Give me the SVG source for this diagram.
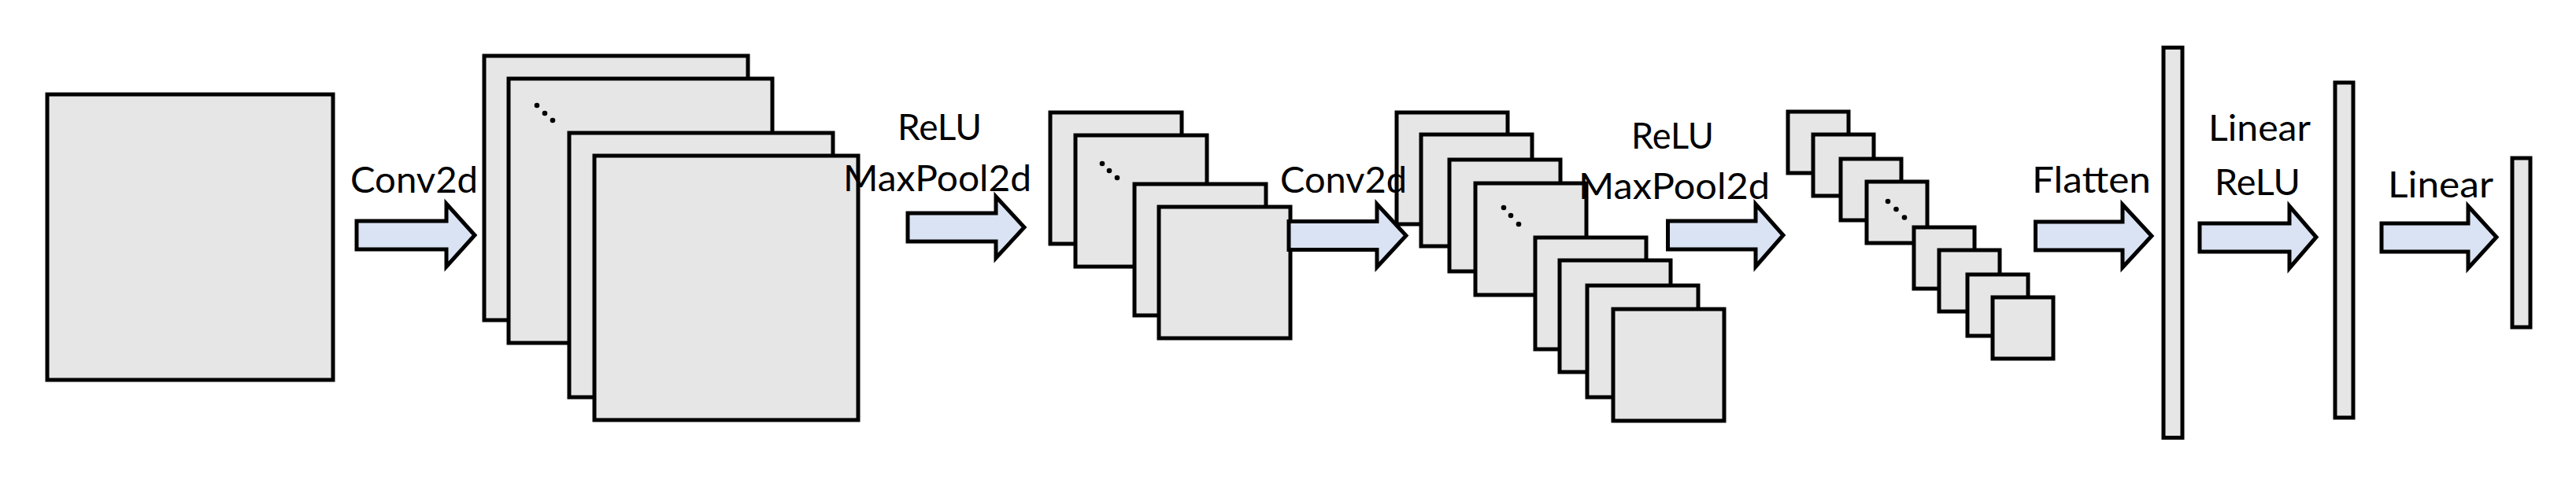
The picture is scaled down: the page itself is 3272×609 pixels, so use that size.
<svg xmlns="http://www.w3.org/2000/svg" width="3272" height="609" viewBox="0 0 3272 609">
<style>
.b{fill:#e6e6e6;stroke:#000;stroke-width:5}
.a{fill:#dae3f3;stroke:#000;stroke-width:5;stroke-linejoin:miter}
.t{font-family:Lato,"Open Sans","Liberation Sans",sans-serif;font-size:46px;fill:#000}
.d{fill:#000}
</style>
<rect width="3272" height="609" fill="#fff"/>
<g id="input"><rect class="b" x="60" y="120" width="363" height="363"/></g>
<g id="conv1-maps">
<rect class="b" x="615" y="71" width="335" height="336"/>
<rect class="b" x="646" y="100" width="335" height="336"/>
<circle class="d" cx="682" cy="134" r="3.3"/><circle class="d" cx="692" cy="144" r="3.3"/><circle class="d" cx="702" cy="153" r="3.3"/>
<rect class="b" x="723" y="169" width="335" height="336"/>
<rect class="b" x="755" y="198" width="335" height="336"/>
</g>
<g id="pool1-maps">
<rect class="b" x="1334" y="143" width="167" height="167"/>
<rect class="b" x="1366" y="172" width="167" height="167"/>
<circle class="d" cx="1400" cy="208" r="3.3"/><circle class="d" cx="1409" cy="217" r="3.3"/><circle class="d" cx="1419" cy="226" r="3.3"/>
<rect class="b" x="1441" y="234" width="167" height="167"/>
<rect class="b" x="1472" y="263" width="167" height="167"/>
</g>
<g id="conv2-maps">
<rect class="b" x="1774" y="143" width="141" height="142"/>
<rect class="b" x="1805" y="171" width="141" height="142"/>
<rect class="b" x="1841" y="203" width="141" height="142"/>
<rect class="b" x="1874" y="233" width="141" height="142"/>
<circle class="d" cx="1910" cy="264" r="3.3"/><circle class="d" cx="1919" cy="274" r="3.3"/><circle class="d" cx="1929" cy="285" r="3.3"/>
<rect class="b" x="1950" y="302" width="141" height="142"/>
<rect class="b" x="1981" y="331" width="141" height="142"/>
<rect class="b" x="2016" y="363" width="141" height="142"/>
<rect class="b" x="2049" y="393" width="141" height="142"/>
</g>
<g id="pool2-maps">
<rect class="b" x="2271" y="142" width="77" height="78"/>
<rect class="b" x="2303" y="171" width="77" height="78"/>
<rect class="b" x="2338" y="202" width="77" height="78"/>
<rect class="b" x="2371" y="231" width="77" height="78"/>
<circle class="d" cx="2398" cy="256" r="3.3"/><circle class="d" cx="2408.5" cy="266" r="3.3"/><circle class="d" cx="2419" cy="276.5" r="3.3"/>
<rect class="b" x="2431" y="289" width="77" height="78"/>
<rect class="b" x="2463" y="318" width="77" height="78"/>
<rect class="b" x="2499" y="349" width="77" height="78"/>
<rect class="b" x="2531" y="378" width="77" height="78"/>
</g>
<g id="flat"><rect class="b" x="2748" y="60.5" width="24" height="496"/></g>
<g id="fc1"><rect class="b" x="2966" y="105" width="23" height="426"/></g>
<g id="fc2"><rect class="b" x="3191" y="201" width="23" height="215"/></g>
<g id="connectors">
<path class="a" d="M453,281 H567 V259 L603,299 L567,339 V317 H453 Z"/>
<path class="a" d="M1153,271 H1265 V250 L1301,289 L1265,328 V307 H1153 Z"/>
<path class="a" d="M1637,281.5 H1749 V259.5 L1786,299.5 L1749,339.5 V317.5 H1637 Z"/>
<path class="a" d="M2118.5,281 H2230 V259.5 L2265,299 L2230,339 V317 H2118.5 Z"/>
<path class="a" d="M2585.5,282 H2696 V260 L2733,300 L2696,340 V318 H2585.5 Z"/>
<path class="a" d="M2794,284 H2908 V262 L2942,301.5 L2908,341 V320 H2794 Z"/>
<path class="a" d="M3025,284 H3135 V262 L3171,301.5 L3135,341 V320 H3025 Z"/>
<text class="t" x="445" y="245" textLength="162" lengthAdjust="spacingAndGlyphs">Conv2d</text>
<text class="t" x="1140" y="178" textLength="107" lengthAdjust="spacingAndGlyphs">ReLU</text>
<text class="t" x="1071" y="243" textLength="239" lengthAdjust="spacingAndGlyphs">MaxPool2d</text>
<text class="t" x="1626" y="245" textLength="161" lengthAdjust="spacingAndGlyphs">Conv2d</text>
<text class="t" x="2072" y="189" textLength="105" lengthAdjust="spacingAndGlyphs">ReLU</text>
<text class="t" x="2005" y="253" textLength="243" lengthAdjust="spacingAndGlyphs">MaxPool2d</text>
<text class="t" x="2581" y="245" textLength="151" lengthAdjust="spacingAndGlyphs">Flatten</text>
<text class="t" x="2805" y="179" textLength="130" lengthAdjust="spacingAndGlyphs">Linear</text>
<text class="t" x="2813" y="248" textLength="109" lengthAdjust="spacingAndGlyphs">ReLU</text>
<text class="t" x="3033" y="251" textLength="134" lengthAdjust="spacingAndGlyphs">Linear</text>
</g>
</svg>
